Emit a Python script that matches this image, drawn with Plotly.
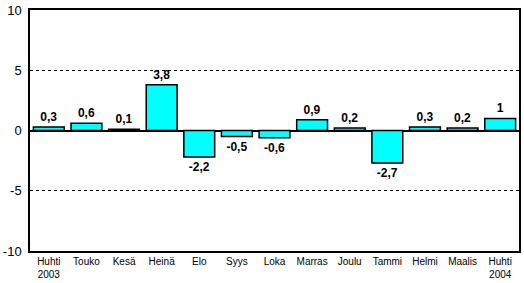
import plotly.graph_objects as go

categories = ["Huhti<br>2003", "Touko", "Kesä", "Heinä", "Elo", "Syys", "Loka",
              "Marras", "Joulu", "Tammi", "Helmi", "Maalis", "Huhti<br>2004"]
values = [0.3, 0.6, 0.1, 3.8, -2.2, -0.5, -0.6, 0.9, 0.2, -2.7, 0.3, 0.2, 1.0]
labels = ["0,3", "0,6", "0,1", "3,8", "-2,2", "-0,5", "-0,6", "0,9", "0,2", "-2,7", "0,3", "0,2", "1"]
y_ticks = [-10, -5, 0, 5, 10]

fig = go.Figure(go.Bar(
    x=categories, y=values, text=labels, textposition="outside",
    textfont=dict(family="Arial, Liberation Sans", size=12, color="black", weight="bold"),
    marker=dict(color="#00FFFF", line=dict(color="black", width=1.5)),
    cliponaxis=False,
))
fig.update_layout(
    width=524, height=283,
    margin=dict(l=30, r=3, t=9, b=32),
    paper_bgcolor="white", plot_bgcolor="white",
    bargap=0.18, showlegend=False,
    font=dict(family="Arial, Liberation Sans", color="black"),
)
fig.update_xaxes(
    showline=True, linecolor="black", linewidth=1.5, mirror=True,
    tickfont=dict(size=10), ticks="", showgrid=False,
)
fig.update_yaxes(
    range=[-10, 10], tickvals=y_ticks, ticktext=[str(v) for v in y_ticks],
    showline=True, linecolor="black", linewidth=1.5, mirror=True,
    showgrid=True, gridcolor="black", griddash="3px,3px", gridwidth=1,
    zeroline=True, zerolinecolor="black", zerolinewidth=1.5,
    tickfont=dict(size=13), ticks="outside", ticklen=4, tickcolor="white",
)
fig.write_html("out.html")
